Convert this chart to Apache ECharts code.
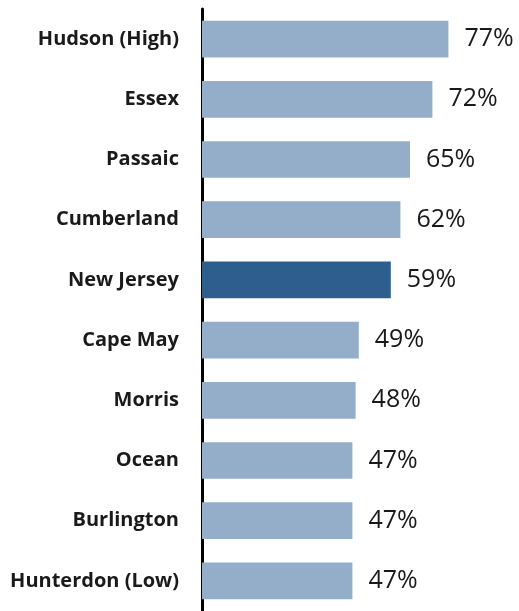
<!DOCTYPE html>
<html>
<head>
<meta charset="utf-8">
<script src="https://cdn.jsdelivr.net/npm/echarts@6/dist/echarts.min.js"></script>
<style>
  html, body { margin: 0; padding: 0; background: #fff; }
  #chart { width: 519px; height: 611px; }
</style>
</head>
<body>
<div id="chart"></div>
<script>
// county share, highest to lowest — NJ total highlighted
const counties = ["Hudson (High)", "Essex", "Passaic", "Cumberland", "New Jersey",
  "Cape May", "Morris", "Ocean", "Burlington", "Hunterdon (Low)"];
const shares = [77, 72, 65, 62, 59, 49, 48, 47, 47, 47];
const highlight = "New Jersey";

const LIGHT = "#94adc8";
const DARK = "#2d5e8e";

const chart = echarts.init(document.getElementById("chart"), null, { renderer: "canvas" });

chart.setOption({
  animation: false,
  grid: { left: 202, right: 29, top: 9, bottom: -3, containLabel: false },
  xAxis: {
    type: "value",
    min: 0,
    max: 90,
    show: false,
    splitLine: { show: false },
  },
  yAxis: {
    type: "category",
    inverse: true,
    data: counties,
    axisTick: { show: false },
    axisLine: { show: true, lineStyle: { color: "#000", width: 3 } },
    axisLabel: {
      margin: 23,
      color: "#1a1a1a",
      fontFamily: "Open Sans",
      fontWeight: "bold",
      fontSize: 20,
    },
  },
  series: [
    {
      type: "bar",
      barCategoryGap: "39%",
      data: shares.map((v, i) => ({
        value: v,
        itemStyle: { color: counties[i] === highlight ? DARK : LIGHT },
      })),
      label: {
        show: true,
        position: "right",
        distance: 16,
        formatter: (p) => p.value + "%",
        color: "#1a1a1a",
        fontFamily: "Open Sans",
        fontSize: 25,
      },
    },
  ],
});
</script>
</body>
</html>
